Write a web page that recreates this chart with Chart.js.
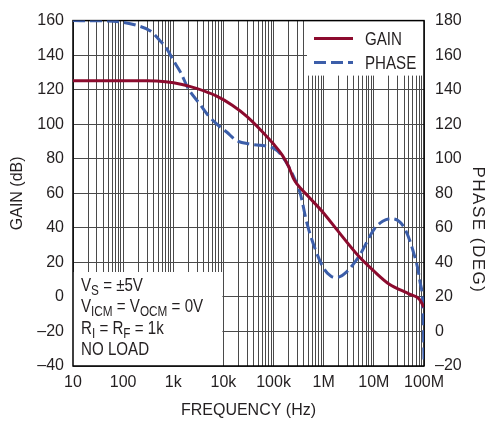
<!DOCTYPE html>
<html>
<head>
<meta charset="utf-8">
<script src="https://cdn.jsdelivr.net/npm/chart.js@4"></script>
<style>
  html, body { margin: 0; padding: 0; background: #fff; }
</style>
</head>
<body>
<canvas id="chart" width="486" height="423"></canvas>
<script>
// open-loop gain and phase vs frequency
const gainFreq = [10, 30, 100, 300, 700, 1500, 3000, 7000, 15000, 30000, 50000, 100000, 150000, 200000, 250000, 300000, 500000, 1e6, 2e6, 5e6, 1e7, 2e7, 5e7, 8e7, 1e8];
const gainDb = [125.2, 125.2, 125.1, 125.1, 124.6, 123, 120.6, 116.5, 111, 104.3, 98, 88.5, 82, 75.5, 68.5, 65, 58, 48.5, 37.5, 23.5, 15, 7.5, 1.8, -1.2, -6];

const phaseFreq = [10, 50, 100, 200, 350, 500, 750, 1000, 1400, 2000, 3400, 5000, 7300, 11600, 18000, 34000, 54000, 75000, 100000, 120000, 170000, 250000, 340000, 460000, 670000, 1e6, 1.4e6, 1.8e6, 2.9e6, 5.3e6, 1e7, 1.5e7, 2.2e7, 3.8e7, 6e7, 8.3e7, 9.6e7, 1e8];
const phaseDeg = [180, 179.8, 179, 177, 174, 169.5, 163.5, 157, 150, 140.5, 131.6, 125, 120.2, 115.5, 110.7, 108.5, 107.8, 107.3, 106, 104.5, 99, 89.8, 80, 63, 48, 36.5, 32, 31.3, 34.7, 44.5, 59, 63.8, 65.3, 61.3, 47, 29, 10, -17];

const freqTicks = [10, 100, 1e3, 1e4, 1e5, 1e6, 1e7, 1e8];
const freqLabels = ['10', '100', '1k', '10k', '100k', '1M', '10M', '100M'];

// test conditions, [text, subscript?]
const noteLines = [
  [['V', false], ['S', true], [' = \u00b15V', false]],
  [['V', false], ['ICM', true], [' = V', false], ['OCM', true], [' = 0V', false]],
  [['R', false], ['I', true], [' = R', false], ['F', true], [' = 1k', false]],
  [['NO LOAD', false]]
];

const FONT = '"Liberation Sans", Arial, sans-serif';
const INK = '#231f20';
const NARROW = 0.84; // squeeze for the condensed-looking labels
Chart.defaults.font.family = FONT;
Chart.defaults.font.size = 16;
Chart.defaults.color = INK;

// 1..9 per decade for the log grid
const gridFreqs = [];
for (let e = 1; e < 8; e++) {
  for (let m = 1; m < 10; m++) gridFreqs.push(m * Math.pow(10, e));
}
gridFreqs.push(1e8);

// draws squeezed text, returns the advance
function narrowText(ctx, text, x, y, size) {
  ctx.font = size + 'px ' + FONT;
  ctx.save();
  ctx.translate(x, y);
  ctx.scale(NARROW, 1);
  ctx.fillText(text, 0, 0);
  ctx.restore();
  return ctx.measureText(text).width * NARROW;
}

const boxes = {
  id: 'boxes',
  beforeDatasetsDraw(chart) {
    const {ctx, chartArea: a, scales} = chart;
    const x = scales.x;
    ctx.save();
    ctx.fillStyle = '#fff';
    // notes box, bottom left
    ctx.fillRect(a.left, a.bottom - 94, x.getPixelForValue(1e4) - 1 - a.left, 94);
    // legend box, top right
    ctx.fillRect(a.right - 117, a.top, 117, 55);
    // frame
    ctx.strokeStyle = '#000';
    ctx.lineWidth = 1.5;
    ctx.strokeRect(a.left, a.top, a.right - a.left, a.bottom - a.top);
    ctx.restore();
  },
  afterDatasetsDraw(chart) {
    const {ctx, chartArea: a, scales} = chart;
    ctx.save();
    ctx.fillStyle = INK;
    // legend
    chart.data.datasets.forEach((ds, i) => {
      const y = a.top + 18 + i * 24;
      ctx.strokeStyle = ds.borderColor;
      ctx.lineWidth = ds.borderWidth;
      ctx.setLineDash(ds.borderDash || []);
      ctx.beginPath();
      ctx.moveTo(a.right - 110, y);
      ctx.lineTo(a.right - 71, y);
      ctx.stroke();
      ctx.textBaseline = 'middle';
      narrowText(ctx, ds.label, a.right - 59, y + 1, 18);
    });
    ctx.setLineDash([]);
    // notes
    ctx.textBaseline = 'alphabetic';
    noteLines.forEach((line, i) => {
      let x = a.left + 8;
      const y = a.bottom - 75 + i * 21.3;
      line.forEach(([t, sub]) => {
        x += narrowText(ctx, t, x, sub ? y + 4 : y, sub ? 14 : 18);
      });
    });
    // phase axis title, reads top to bottom
    const y1 = scales.y1;
    ctx.translate(y1.right - 8, 230);
    ctx.rotate(Math.PI / 2);
    ctx.font = '17px ' + FONT;
    ctx.letterSpacing = '1.5px';
    ctx.textAlign = 'center';
    ctx.textBaseline = 'middle';
    ctx.fillText('PHASE (DEG)', 0, 0);
    ctx.restore();
  }
};

const ctx = document.getElementById('chart').getContext('2d');

new Chart(ctx, {
  type: 'line',
  data: {
    datasets: [{
      label: 'GAIN',
      data: gainFreq.map((f, i) => ({x: f, y: gainDb[i]})),
      yAxisID: 'y',
      borderColor: '#8c0b2e',
      borderWidth: 3,
      pointRadius: 0,
      cubicInterpolationMode: 'monotone'
    }, {
      label: 'PHASE',
      data: phaseFreq.map((f, i) => ({x: f, y: phaseDeg[i]})),
      yAxisID: 'y1',
      borderColor: '#3c5ea9',
      borderWidth: 3,
      borderDash: [12, 5],
      pointRadius: 0,
      cubicInterpolationMode: 'monotone'
    }]
  },
  options: {
    responsive: false,
    animation: false,
    layout: { padding: { top: 15 } },
    plugins: {
      legend: { display: false },
      tooltip: { enabled: false }
    },
    scales: {
      x: {
        type: 'logarithmic',
        min: 10,
        max: 1e8,
        afterBuildTicks: axis => { axis.ticks = gridFreqs.map(v => ({value: v})); },
        afterFit: axis => { axis.height = 57; },
        grid: { color: '#4a4a4a', lineWidth: 1, drawTicks: false },
        border: { display: false },
        ticks: {
          autoSkip: false,
          maxRotation: 0,
          padding: 7,
          callback: v => {
            const i = freqTicks.indexOf(v);
            return i < 0 ? '' : freqLabels[i];
          }
        },
        title: { display: true, text: 'FREQUENCY (Hz)', font: { size: 16, lineHeight: 1 }, padding: { top: 4 } }
      },
      y: {
        position: 'left',
        min: -40,
        max: 160,
        afterFit: axis => { axis.width = 73; },
        grid: { color: '#4a4a4a', lineWidth: 1, drawTicks: false },
        border: { display: false },
        ticks: {
          stepSize: 20,
          padding: 9,
          callback: v => String(v).replace('-', '\u2013')
        },
        title: { display: true, text: 'GAIN (dB)', font: { size: 16, lineHeight: 1 }, padding: { top: 10 } }
      },
      y1: {
        position: 'right',
        min: -20,
        max: 180,
        afterFit: axis => { axis.width = 62; },
        grid: { display: false, drawTicks: false },
        border: { display: false },
        ticks: {
          stepSize: 20,
          padding: 11,
          callback: v => String(v).replace('-', '\u2013')
        }
      }
    }
  },
  plugins: [boxes]
});
</script>
</body>
</html>
